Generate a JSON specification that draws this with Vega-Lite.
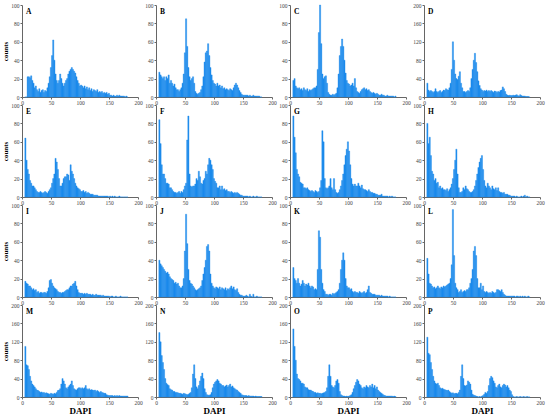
{
"$schema": "https://vega.github.io/schema/vega-lite/v6.json",
"padding": {"left": 1, "top": 3, "right": 4, "bottom": 1},
"data": {"values": [
{"p":"A","x":[4,6,8,10,12,14,16,18,20,22,24,26,28,30,32,34,36,38,40,42,44,46,48,50,52,54,56,58,60,62,64,66,68,70,72,74,76,78,80,82,84,86,88,90,92,94,96,98,100,102,104,106,108,110,112,114,116,118,120,122,124,126,128,130,132,134,136,138,140,142,144,146,148,150,152,154,156,158,160,162,164,166,168,170,172,174,176,178,180],"c":[0,0,22,22,21,23,18,15,10,12,8,6,9,5,7,8,5,7,6,10,15,22,32,45,62,40,25,18,15,18,25,20,15,12,15,18,20,25,28,30,32,30,28,26,22,18,15,12,13,12,10,12,9,11,8,10,7,9,6,8,7,6,8,5,6,5,6,4,5,4,5,3,4,2,2,1,2,1,1,2,1,2,1,1,1,1,0,1,0]},
{"p":"B","x":[4,6,8,10,12,14,16,18,20,22,24,26,28,30,32,34,36,38,40,42,44,46,48,50,52,54,56,58,60,62,64,66,68,70,72,74,76,78,80,82,84,86,88,90,92,94,96,98,100,102,104,106,108,110,112,114,116,118,120,122,124,126,128,130,132,134,136,138,140,142,144,146,148,150,152,154,156,158,160,162,164,166,168,170,172,174,176,178,180],"c":[27,24,22,20,22,18,22,20,24,15,18,15,12,14,10,8,8,6,8,10,15,25,48,85,55,32,22,18,20,22,15,6,4,3,4,5,8,12,22,38,48,50,58,45,32,24,18,15,14,12,15,12,13,10,12,9,10,8,9,8,7,9,8,7,10,13,15,13,10,7,5,3,2,2,2,2,2,1,2,1,1,2,1,1,1,1,1,0,0]},
{"p":"C","x":[4,6,8,10,12,14,16,18,20,22,24,26,28,30,32,34,36,38,40,42,44,46,48,50,52,54,56,58,60,62,64,66,68,70,72,74,76,78,80,82,84,86,88,90,92,94,96,98,100,102,104,106,108,110,112,114,116,118,120,122,124,126,128,130,132,134,136,138,140,142,144,146,148,150,152,154,156,158,160,162,164,166,168,170,172,174,176,178,180],"c":[18,20,12,10,9,10,8,9,7,10,8,7,9,6,8,7,8,9,10,10,12,30,70,100,58,25,20,22,23,15,5,3,2,2,3,2,3,4,10,25,45,55,63,55,40,26,18,15,14,12,13,15,12,20,10,6,5,4,6,8,9,10,8,9,7,8,6,5,4,5,4,3,4,3,2,2,3,2,2,1,1,2,1,1,1,1,1,0,1]},
{"p":"D","x":[4,6,8,10,12,14,16,18,20,22,24,26,28,30,32,34,36,38,40,42,44,46,48,50,52,54,56,58,60,62,64,66,68,70,72,74,76,78,80,82,84,86,88,90,92,94,96,98,100,102,104,106,108,110,112,114,116,118,120,122,124,126,128,130,132,134,136,138,140,142,144,146,148,150,152,154,156,158,160,162,164,166,168,170,172,174,176,178,180],"c":[30,15,12,14,12,10,12,18,12,10,12,14,10,12,15,14,18,16,15,20,30,60,120,80,50,40,38,45,55,30,20,12,12,10,12,14,12,20,40,60,80,95,75,55,35,25,18,15,12,14,13,15,12,14,12,14,12,10,13,12,10,12,11,14,15,22,18,12,6,4,3,4,3,3,4,3,4,5,3,2,5,3,2,2,2,1,1,1,0]},
{"p":"E","x":[4,6,8,10,12,14,16,18,20,22,24,26,28,30,32,34,36,38,40,42,44,46,48,50,52,54,56,58,60,62,64,66,68,70,72,74,76,78,80,82,84,86,88,90,92,94,96,98,100,102,104,106,108,110,112,114,116,118,120,122,124,126,128,130,132,134,136,138,140,142,144,146,148,150,152,154,156,158,160,162,164,166,168,170,172,174,176,178,180],"c":[64,40,30,25,18,15,12,12,10,8,6,5,5,6,5,4,5,6,5,4,6,8,10,15,20,25,42,38,30,20,12,12,15,20,22,22,25,24,18,35,28,25,20,15,12,10,9,8,6,6,7,5,6,4,5,4,3,3,3,2,2,2,2,1,1,1,1,1,1,1,1,1,0,1,0,1,0,1,0,0,0,1,0,0,0,0,0,0,0]},
{"p":"F","x":[4,6,8,10,12,14,16,18,20,22,24,26,28,30,32,34,36,38,40,42,44,46,48,50,52,54,56,58,60,62,64,66,68,70,72,74,76,78,80,82,84,86,88,90,92,94,96,98,100,102,104,106,108,110,112,114,116,118,120,122,124,126,128,130,132,134,136,138,140,142,144,146,148,150,152,154,156,158,160,162,164,166,168,170,172,174,176,178,180],"c":[84,58,35,25,25,20,15,15,14,10,10,8,6,5,5,4,5,6,4,6,5,8,12,15,62,88,25,12,11,12,12,14,20,18,28,22,15,14,18,20,28,25,35,42,40,35,30,20,17,15,10,10,12,8,12,8,9,7,8,6,6,5,6,5,4,5,4,5,4,3,2,2,1,1,1,1,1,0,1,0,0,1,0,0,1,0,0,0,0]},
{"p":"G","x":[4,6,8,10,12,14,16,18,20,22,24,26,28,30,32,34,36,38,40,42,44,46,48,50,52,54,56,58,60,62,64,66,68,70,72,74,76,78,80,82,84,86,88,90,92,94,96,98,100,102,104,106,108,110,112,114,116,118,120,122,124,126,128,130,132,134,136,138,140,142,144,146,148,150,152,154,156,158,160,162,164,166,168,170,172,174,176,178,180],"c":[88,65,48,30,25,22,16,15,14,10,10,9,10,8,7,6,7,6,5,7,6,5,6,10,18,72,60,20,10,9,10,12,20,10,8,20,8,5,4,5,8,12,18,25,35,45,52,60,50,35,20,14,12,14,12,12,15,12,10,13,9,8,8,7,6,8,6,5,5,4,4,3,3,2,2,2,3,1,1,1,1,1,0,1,0,1,0,0,0]},
{"p":"H","x":[4,6,8,10,12,14,16,18,20,22,24,26,28,30,32,34,36,38,40,42,44,46,48,50,52,54,56,58,60,62,64,66,68,70,72,74,76,78,80,82,84,86,88,90,92,94,96,98,100,102,104,106,108,110,112,114,116,118,120,122,124,126,128,130,132,134,136,138,140,142,144,146,148,150,152,154,156,158,160,162,164,166,168,170,172,174,176,178,180],"c":[80,58,65,45,28,25,18,20,15,16,10,12,9,10,8,8,7,9,6,8,10,14,20,30,40,52,25,10,5,5,6,10,8,12,9,8,6,5,5,6,8,12,18,25,32,38,42,45,30,18,12,10,15,12,10,8,12,9,8,10,7,10,6,5,5,4,5,3,3,3,2,2,1,1,1,1,0,1,0,0,0,1,0,1,2,0,1,0,0]},
{"p":"I","x":[4,6,8,10,12,14,16,18,20,22,24,26,28,30,32,34,36,38,40,42,44,46,48,50,52,54,56,58,60,62,64,66,68,70,72,74,76,78,80,82,84,86,88,90,92,94,96,98,100,102,104,106,108,110,112,114,116,118,120,122,124,126,128,130,132,134,136,138,140,142,144,146,148,150,152,154,156,158,160,162,164,166,168,170,172,174,176,178,180],"c":[17,15,14,12,12,10,8,9,7,8,5,6,4,5,5,4,5,5,4,6,10,18,19,15,12,10,9,8,6,5,5,4,5,5,6,7,8,8,10,12,12,14,15,17,12,8,5,4,4,4,3,4,3,4,3,3,3,2,3,2,2,3,2,2,2,2,1,2,1,1,1,1,1,0,1,1,0,0,1,0,0,0,1,0,0,0,0,0,0]},
{"p":"J","x":[4,6,8,10,12,14,16,18,20,22,24,26,28,30,32,34,36,38,40,42,44,46,48,50,52,54,56,58,60,62,64,66,68,70,72,74,76,78,80,82,84,86,88,90,92,94,96,98,100,102,104,106,108,110,112,114,116,118,120,122,124,126,128,130,132,134,136,138,140,142,144,146,148,150,152,154,156,158,160,162,164,166,168,170,172,174,176,178,180],"c":[40,36,34,32,30,28,26,27,25,22,20,19,18,15,16,14,15,12,10,10,12,20,50,90,58,30,18,15,14,12,10,8,7,8,9,10,12,18,25,32,40,55,57,50,25,15,12,10,9,11,10,9,11,8,10,9,8,10,7,9,8,10,12,9,11,8,7,9,5,3,2,2,1,1,1,2,1,0,3,1,0,3,0,0,1,0,0,0,0]},
{"p":"K","x":[4,6,8,10,12,14,16,18,20,22,24,26,28,30,32,34,36,38,40,42,44,46,48,50,52,54,56,58,60,62,64,66,68,70,72,74,76,78,80,82,84,86,88,90,92,94,96,98,100,102,104,106,108,110,112,114,116,118,120,122,124,126,128,130,132,134,136,138,140,142,144,146,148,150,152,154,156,158,160,162,164,166,168,170,172,174,176,178,180],"c":[32,20,18,15,20,15,12,14,18,15,12,14,13,15,12,10,12,11,8,9,8,30,72,65,30,15,8,6,3,3,2,3,3,2,4,3,4,5,6,8,15,30,40,48,40,20,12,10,10,8,9,6,5,6,5,5,4,6,5,4,5,6,4,5,8,12,5,4,3,3,3,2,2,2,2,1,2,1,1,1,1,1,0,1,0,0,0,0,0]},
{"p":"L","x":[4,6,8,10,12,14,16,18,20,22,24,26,28,30,32,34,36,38,40,42,44,46,48,50,52,54,56,58,60,62,64,66,68,70,72,74,76,78,80,82,84,86,88,90,92,94,96,98,100,102,104,106,108,110,112,114,116,118,120,122,124,126,128,130,132,134,136,138,140,142,144,146,148,150,152,154,156,158,160,162,164,166,168,170,172,174,176,178,180],"c":[42,25,15,14,12,10,11,9,10,12,10,9,11,10,12,11,12,13,14,15,20,35,95,45,15,10,8,5,6,8,5,6,7,6,8,8,10,15,20,30,50,55,45,20,10,10,15,8,12,6,5,6,5,4,5,4,6,5,4,5,8,8,7,6,8,5,3,2,1,1,1,1,1,1,1,1,0,1,1,0,1,0,1,0,1,0,0,1,0]},
{"p":"M","x":[4,6,8,10,12,14,16,18,20,22,24,26,28,30,32,34,36,38,40,42,44,46,48,50,52,54,56,58,60,62,64,66,68,70,72,74,76,78,80,82,84,86,88,90,92,94,96,98,100,102,104,106,108,110,112,114,116,118,120,122,124,126,128,130,132,134,136,138,140,142,144,146,148,150,152,154,156,158,160,162,164,166,168,170,172,174,176,178,180],"c":[110,70,68,60,45,35,28,25,22,18,15,14,12,10,11,9,10,8,9,8,7,6,8,7,6,8,7,10,14,15,18,28,40,35,28,20,18,22,25,28,35,25,18,16,15,18,20,20,18,20,18,20,25,18,16,18,15,16,15,14,15,12,14,12,10,12,10,9,8,8,5,4,3,3,3,3,2,3,2,3,2,3,2,2,2,2,2,2,2]},
{"p":"N","x":[4,6,8,10,12,14,16,18,20,22,24,26,28,30,32,34,36,38,40,42,44,46,48,50,52,54,56,58,60,62,64,66,68,70,72,74,76,78,80,82,84,86,88,90,92,94,96,98,100,102,104,106,108,110,112,114,116,118,120,122,124,126,128,130,132,134,136,138,140,142,144,146,148,150,152,154,156,158,160,162,164,166,168,170,172,174,176,178,180],"c":[140,120,90,75,60,40,30,27,25,18,16,15,12,12,10,10,9,8,8,7,6,8,7,6,5,6,8,10,20,50,70,40,22,18,25,35,45,52,40,18,10,5,4,4,5,10,20,28,32,35,38,35,30,28,25,25,22,24,26,22,25,28,22,24,20,18,16,15,12,10,8,5,4,3,3,3,2,3,2,2,2,2,1,2,1,1,1,1,1]},
{"p":"O","x":[4,6,8,10,12,14,16,18,20,22,24,26,28,30,32,34,36,38,40,42,44,46,48,50,52,54,56,58,60,62,64,66,68,70,72,74,76,78,80,82,84,86,88,90,92,94,96,98,100,102,104,106,108,110,112,114,116,118,120,122,124,126,128,130,132,134,136,138,140,142,144,146,148,150,152,154,156,158,160,162,164,166,168,170,172,174,176,178,180],"c":[148,110,80,50,40,38,35,30,30,28,22,20,20,16,15,15,13,12,10,10,8,9,8,8,7,8,9,10,12,20,45,70,45,25,22,20,25,35,38,30,12,5,3,2,2,1,2,1,2,3,5,10,18,25,32,38,35,28,25,20,18,22,20,25,22,20,25,22,28,20,25,18,22,15,12,10,8,6,4,3,2,2,2,2,2,2,1,2,1]},
{"p":"P","x":[4,6,8,10,12,14,16,18,20,22,24,26,28,30,32,34,36,38,40,42,44,46,48,50,52,54,56,58,60,62,64,66,68,70,72,74,76,78,80,82,84,86,88,90,92,94,96,98,100,102,104,106,108,110,112,114,116,118,120,122,124,126,128,130,132,134,136,138,140,142,144,146,148,150,152,154,156,158,160,162,164,166,168,170,172,174,176,178,180],"c":[130,95,92,75,60,45,35,30,28,30,25,20,18,19,17,16,15,14,15,12,10,8,9,7,8,8,7,10,15,45,70,40,25,24,26,35,32,28,15,6,4,3,2,1,0,1,0,2,3,6,10,8,12,25,40,45,42,35,30,22,20,25,28,22,20,25,28,26,22,25,20,15,12,5,1,0,0,1,0,0,1,0,0,1,0,0,1,0,0]}
]},
"columns": 4,
"spacing": {"row": 8, "column": 18},
"bounds": "flush",
"concat": [
{"title":"A","width":116,"height":92,"transform":[{"filter":"datum.p==='A'"},{"flatten":["x","c"]}],"mark":"bar","encoding":{"x":{"field":"x","type":"quantitative","bin":{"binned":true,"step":2},"scale":{"domain":[0,200]},"axis":{"values":[0,50,100,150,200],"title":null}},"y":{"field":"c","type":"quantitative","scale":{"domain":[0,100]},"axis":{"values":[0,20,40,60,80,100],"title":"counts"}}}},
{"title":"B","width":116,"height":92,"transform":[{"filter":"datum.p==='B'"},{"flatten":["x","c"]}],"mark":"bar","encoding":{"x":{"field":"x","type":"quantitative","bin":{"binned":true,"step":2},"scale":{"domain":[0,200]},"axis":{"values":[0,50,100,150,200],"title":null}},"y":{"field":"c","type":"quantitative","scale":{"domain":[0,100]},"axis":{"values":[0,20,40,60,80,100],"title":null}}}},
{"title":"C","width":116,"height":92,"transform":[{"filter":"datum.p==='C'"},{"flatten":["x","c"]}],"mark":"bar","encoding":{"x":{"field":"x","type":"quantitative","bin":{"binned":true,"step":2},"scale":{"domain":[0,200]},"axis":{"values":[0,50,100,150,200],"title":null}},"y":{"field":"c","type":"quantitative","scale":{"domain":[0,100]},"axis":{"values":[0,20,40,60,80,100],"title":null}}}},
{"title":"D","width":116,"height":92,"transform":[{"filter":"datum.p==='D'"},{"flatten":["x","c"]}],"mark":"bar","encoding":{"x":{"field":"x","type":"quantitative","bin":{"binned":true,"step":2},"scale":{"domain":[0,200]},"axis":{"values":[0,50,100,150,200],"title":null}},"y":{"field":"c","type":"quantitative","scale":{"domain":[0,200]},"axis":{"values":[0,40,80,120,160,200],"title":null}}}},
{"title":"E","width":116,"height":92,"transform":[{"filter":"datum.p==='E'"},{"flatten":["x","c"]}],"mark":"bar","encoding":{"x":{"field":"x","type":"quantitative","bin":{"binned":true,"step":2},"scale":{"domain":[0,200]},"axis":{"values":[0,50,100,150,200],"title":null}},"y":{"field":"c","type":"quantitative","scale":{"domain":[0,100]},"axis":{"values":[0,20,40,60,80,100],"title":"counts"}}}},
{"title":"F","width":116,"height":92,"transform":[{"filter":"datum.p==='F'"},{"flatten":["x","c"]}],"mark":"bar","encoding":{"x":{"field":"x","type":"quantitative","bin":{"binned":true,"step":2},"scale":{"domain":[0,200]},"axis":{"values":[0,50,100,150,200],"title":null}},"y":{"field":"c","type":"quantitative","scale":{"domain":[0,100]},"axis":{"values":[0,20,40,60,80,100],"title":null}}}},
{"title":"G","width":116,"height":92,"transform":[{"filter":"datum.p==='G'"},{"flatten":["x","c"]}],"mark":"bar","encoding":{"x":{"field":"x","type":"quantitative","bin":{"binned":true,"step":2},"scale":{"domain":[0,200]},"axis":{"values":[0,50,100,150,200],"title":null}},"y":{"field":"c","type":"quantitative","scale":{"domain":[0,100]},"axis":{"values":[0,20,40,60,80,100],"title":null}}}},
{"title":"H","width":116,"height":92,"transform":[{"filter":"datum.p==='H'"},{"flatten":["x","c"]}],"mark":"bar","encoding":{"x":{"field":"x","type":"quantitative","bin":{"binned":true,"step":2},"scale":{"domain":[0,200]},"axis":{"values":[0,50,100,150,200],"title":null}},"y":{"field":"c","type":"quantitative","scale":{"domain":[0,100]},"axis":{"values":[0,20,40,60,80,100],"title":null}}}},
{"title":"I","width":116,"height":92,"transform":[{"filter":"datum.p==='I'"},{"flatten":["x","c"]}],"mark":"bar","encoding":{"x":{"field":"x","type":"quantitative","bin":{"binned":true,"step":2},"scale":{"domain":[0,200]},"axis":{"values":[0,50,100,150,200],"title":null}},"y":{"field":"c","type":"quantitative","scale":{"domain":[0,100]},"axis":{"values":[0,20,40,60,80,100],"title":"counts"}}}},
{"title":"J","width":116,"height":92,"transform":[{"filter":"datum.p==='J'"},{"flatten":["x","c"]}],"mark":"bar","encoding":{"x":{"field":"x","type":"quantitative","bin":{"binned":true,"step":2},"scale":{"domain":[0,200]},"axis":{"values":[0,50,100,150,200],"title":null}},"y":{"field":"c","type":"quantitative","scale":{"domain":[0,100]},"axis":{"values":[0,20,40,60,80,100],"title":null}}}},
{"title":"K","width":116,"height":92,"transform":[{"filter":"datum.p==='K'"},{"flatten":["x","c"]}],"mark":"bar","encoding":{"x":{"field":"x","type":"quantitative","bin":{"binned":true,"step":2},"scale":{"domain":[0,200]},"axis":{"values":[0,50,100,150,200],"title":null}},"y":{"field":"c","type":"quantitative","scale":{"domain":[0,100]},"axis":{"values":[0,20,40,60,80,100],"title":null}}}},
{"title":"L","width":116,"height":92,"transform":[{"filter":"datum.p==='L'"},{"flatten":["x","c"]}],"mark":"bar","encoding":{"x":{"field":"x","type":"quantitative","bin":{"binned":true,"step":2},"scale":{"domain":[0,200]},"axis":{"values":[0,50,100,150,200],"title":null}},"y":{"field":"c","type":"quantitative","scale":{"domain":[0,100]},"axis":{"values":[0,20,40,60,80,100],"title":null}}}},
{"title":"M","width":116,"height":92,"transform":[{"filter":"datum.p==='M'"},{"flatten":["x","c"]}],"mark":"bar","encoding":{"x":{"field":"x","type":"quantitative","bin":{"binned":true,"step":2},"scale":{"domain":[0,200]},"axis":{"values":[0,50,100,150,200],"title":"DAPI"}},"y":{"field":"c","type":"quantitative","scale":{"domain":[0,200]},"axis":{"values":[0,40,80,120,160,200],"title":"counts"}}}},
{"title":"N","width":116,"height":92,"transform":[{"filter":"datum.p==='N'"},{"flatten":["x","c"]}],"mark":"bar","encoding":{"x":{"field":"x","type":"quantitative","bin":{"binned":true,"step":2},"scale":{"domain":[0,200]},"axis":{"values":[0,50,100,150,200],"title":"DAPI"}},"y":{"field":"c","type":"quantitative","scale":{"domain":[0,200]},"axis":{"values":[0,40,80,120,160,200],"title":null}}}},
{"title":"O","width":116,"height":92,"transform":[{"filter":"datum.p==='O'"},{"flatten":["x","c"]}],"mark":"bar","encoding":{"x":{"field":"x","type":"quantitative","bin":{"binned":true,"step":2},"scale":{"domain":[0,200]},"axis":{"values":[0,50,100,150,200],"title":"DAPI"}},"y":{"field":"c","type":"quantitative","scale":{"domain":[0,200]},"axis":{"values":[0,40,80,120,160,200],"title":null}}}},
{"title":"P","width":116,"height":92,"transform":[{"filter":"datum.p==='P'"},{"flatten":["x","c"]}],"mark":"bar","encoding":{"x":{"field":"x","type":"quantitative","bin":{"binned":true,"step":2},"scale":{"domain":[0,200]},"axis":{"values":[0,50,100,150,200],"title":"DAPI"}},"y":{"field":"c","type":"quantitative","scale":{"domain":[0,200]},"axis":{"values":[0,40,80,120,160,200],"title":null}}}}
],
"config": {
"view": {"stroke": null},
"bar": {"color": "#1c8aec", "binSpacing": 0, "stroke": "#1c8aec", "strokeWidth": 0.4},
"axis": {"grid": false, "labelFont": "Liberation Serif", "labelFontSize": 5.5, "labelColor": "#444", "labelFlush": false, "labelPadding": 1, "domainColor": "#666", "tickColor": "#666", "tickSize": 2, "titleFont": "Liberation Serif", "titleFontWeight": "bold", "titleColor": "#000"},
"axisX": {"titleFontSize": 9, "titlePadding": 1},
"axisY": {"titleFontSize": 7, "titlePadding": 2},
"title": {"anchor": "start", "frame": "group", "fontSize": 7.5, "font": "Liberation Serif", "fontWeight": "bold", "color": "#000", "offset": -12, "dx": 4}
}
}
